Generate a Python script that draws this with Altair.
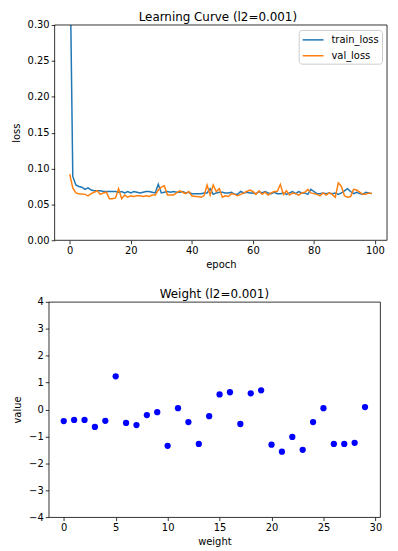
import altair as alt
import pandas as pd

epochs = list(range(100))
train_loss = [
    0.42, 0.089, 0.077, 0.075, 0.074, 0.071, 0.073, 0.070, 0.069, 0.069,
    0.069, 0.068, 0.068, 0.068, 0.068, 0.068, 0.067, 0.068, 0.066, 0.068,
    0.066, 0.068, 0.067, 0.066, 0.067, 0.068, 0.068, 0.067, 0.066, 0.078,
    0.066, 0.067, 0.068, 0.067, 0.068, 0.067, 0.067, 0.068, 0.066, 0.067,
    0.065, 0.065, 0.065, 0.065, 0.066, 0.066, 0.072, 0.064, 0.066, 0.067,
    0.067, 0.066, 0.066, 0.067, 0.064, 0.064, 0.068, 0.066, 0.067, 0.066,
    0.066, 0.065, 0.068, 0.066, 0.068, 0.066, 0.065, 0.067, 0.065, 0.065,
    0.066, 0.064, 0.066, 0.068, 0.065, 0.068, 0.066, 0.066, 0.064, 0.071,
    0.068, 0.065, 0.065, 0.066, 0.065, 0.066, 0.065, 0.066, 0.064, 0.066,
    0.069, 0.072, 0.068, 0.065, 0.067, 0.065, 0.064, 0.067, 0.066, 0.065,
]
val_loss = [
    0.092, 0.073, 0.066, 0.065, 0.0645, 0.064, 0.062, 0.065, 0.067, 0.069,
    0.064, 0.066, 0.067, 0.058, 0.058, 0.059, 0.072, 0.058, 0.063, 0.060,
    0.062, 0.061, 0.062, 0.062, 0.061, 0.062, 0.061, 0.063, 0.063, 0.070,
    0.074, 0.076, 0.063, 0.063, 0.063, 0.066, 0.069, 0.067, 0.065, 0.068,
    0.062, 0.061, 0.061, 0.060, 0.062, 0.077, 0.063, 0.077, 0.068, 0.072,
    0.060, 0.062, 0.061, 0.065, 0.064, 0.062, 0.064, 0.066, 0.068, 0.070,
    0.068, 0.064, 0.069, 0.064, 0.067, 0.063, 0.066, 0.068, 0.068, 0.078,
    0.064, 0.069, 0.063, 0.066, 0.065, 0.063, 0.066, 0.067, 0.071, 0.066,
    0.065, 0.064, 0.062, 0.066, 0.063, 0.066, 0.064, 0.060, 0.080, 0.075,
    0.062, 0.060, 0.061, 0.071, 0.070, 0.067, 0.064, 0.064, 0.066, 0.065,
]
series_names = ["train_loss", "val_loss"]
series_colors = ["#1f77b4", "#ff7f0e"]

weight_idx = list(range(30))
weight_values = [
    -0.43, -0.39, -0.39, -0.65, -0.42, 1.23, -0.50, -0.58, -0.21, -0.10,
    -1.35, 0.05, -0.47, -1.28, -0.25, 0.56, 0.64, -0.54, 0.60, 0.71,
    -1.31, -1.57, -1.02, -1.50, -0.47, 0.05, -1.28, -1.28, -1.24, 0.09,
]

loss_df = pd.DataFrame({
    "epoch": epochs * 2,
    "loss": train_loss + val_loss,
    "series": [series_names[0]] * 100 + [series_names[1]] * 100,
})
w_df = pd.DataFrame({"weight": weight_idx, "value": weight_values})

FONT = "DejaVu Sans"
axis_common = dict(
    grid=False, domain=False, tickColor="black", tickSize=3.5, tickWidth=0.8,
    labelColor="black", labelFontSize=10, labelFont=FONT, labelPadding=2,
    titleColor="black", titleFontSize=10, titleFont=FONT, titleFontWeight="normal",
)

SHIFT = 6          # top plot area starts this much to the right of the bottom one
TOP_W = 335
H = 217

line = alt.Chart(loss_df).mark_line(clip=True, strokeWidth=1.5).encode(
    x=alt.X("epoch:Q", scale=alt.Scale(domain=[-4.95, 103.95], nice=False, zero=False,
                                       range=[SHIFT, SHIFT + TOP_W]),
            axis=alt.Axis(values=[0, 20, 40, 60, 80, 100], title="epoch", titlePadding=4,
                          titleX=SHIFT + TOP_W / 2, **axis_common)),
    y=alt.Y("loss:Q", scale=alt.Scale(domain=[0, 0.3], nice=False),
            axis=alt.Axis(values=[0, 0.05, 0.1, 0.15, 0.2, 0.25, 0.3], format=".2f",
                          title="loss", titlePadding=6, offset=-SHIFT, **axis_common)),
    color=alt.Color("series:N", scale=alt.Scale(domain=series_names, range=series_colors),
                    legend=alt.Legend(title=None, orient="top-right", offset=5,
                                      symbolType="M-1,0H2.5", symbolSize=144,
                                      symbolStrokeWidth=1.5,
                                      labelFontSize=10, labelFont=FONT, labelColor="black",
                                      strokeColor="#cccccc", fillColor="white", padding=3,
                                      cornerRadius=3, rowPadding=4, labelOffset=16)),
)
frame = alt.Chart(pd.DataFrame({"f": [0]})).mark_rect(
    fill="transparent", stroke="black", strokeWidth=0.8
).encode(x=alt.value(SHIFT), x2=alt.value(SHIFT + TOP_W), y=alt.value(0), y2=alt.value(H))

top = alt.layer(line, frame).properties(
    width=SHIFT + TOP_W, height=H,
    view=alt.ViewConfig(stroke="transparent"),
    title=alt.TitleParams("Learning Curve (l2=0.001)", fontSize=12, font=FONT,
                          fontWeight="normal", color="black", offset=-4,
                          anchor="middle"),
)

bottom = alt.Chart(w_df).mark_circle(size=40, color="#0000ff", opacity=1).encode(
    x=alt.X("weight:Q", scale=alt.Scale(domain=[-1.45, 30.45], nice=False, zero=False),
            axis=alt.Axis(values=[0, 5, 10, 15, 20, 25, 30], title="weight", titlePadding=4, **axis_common)),
    y=alt.Y("value:Q", scale=alt.Scale(domain=[-4, 4], nice=False),
            axis=alt.Axis(values=[-4, -3, -2, -1, 0, 1, 2, 3, 4], title="value",
                          titlePadding=6, **axis_common)),
).properties(
    width=334, height=H,
    view=alt.ViewConfig(stroke="black", strokeWidth=0.8),
    title=alt.TitleParams("Weight (l2=0.001)", fontSize=12, font=FONT,
                          fontWeight="normal", color="black", offset=-4),
)

chart = alt.ConcatChart(concat=[top, bottom], columns=1, spacing=17).properties(
    padding={"left": 2, "top": 0, "right": 2, "bottom": 0},
).resolve_legend(color="independent").resolve_scale(color="independent").configure(
    background="white")

chart.save("out.html", embed_options={"renderer": "svg", "actions": False})
